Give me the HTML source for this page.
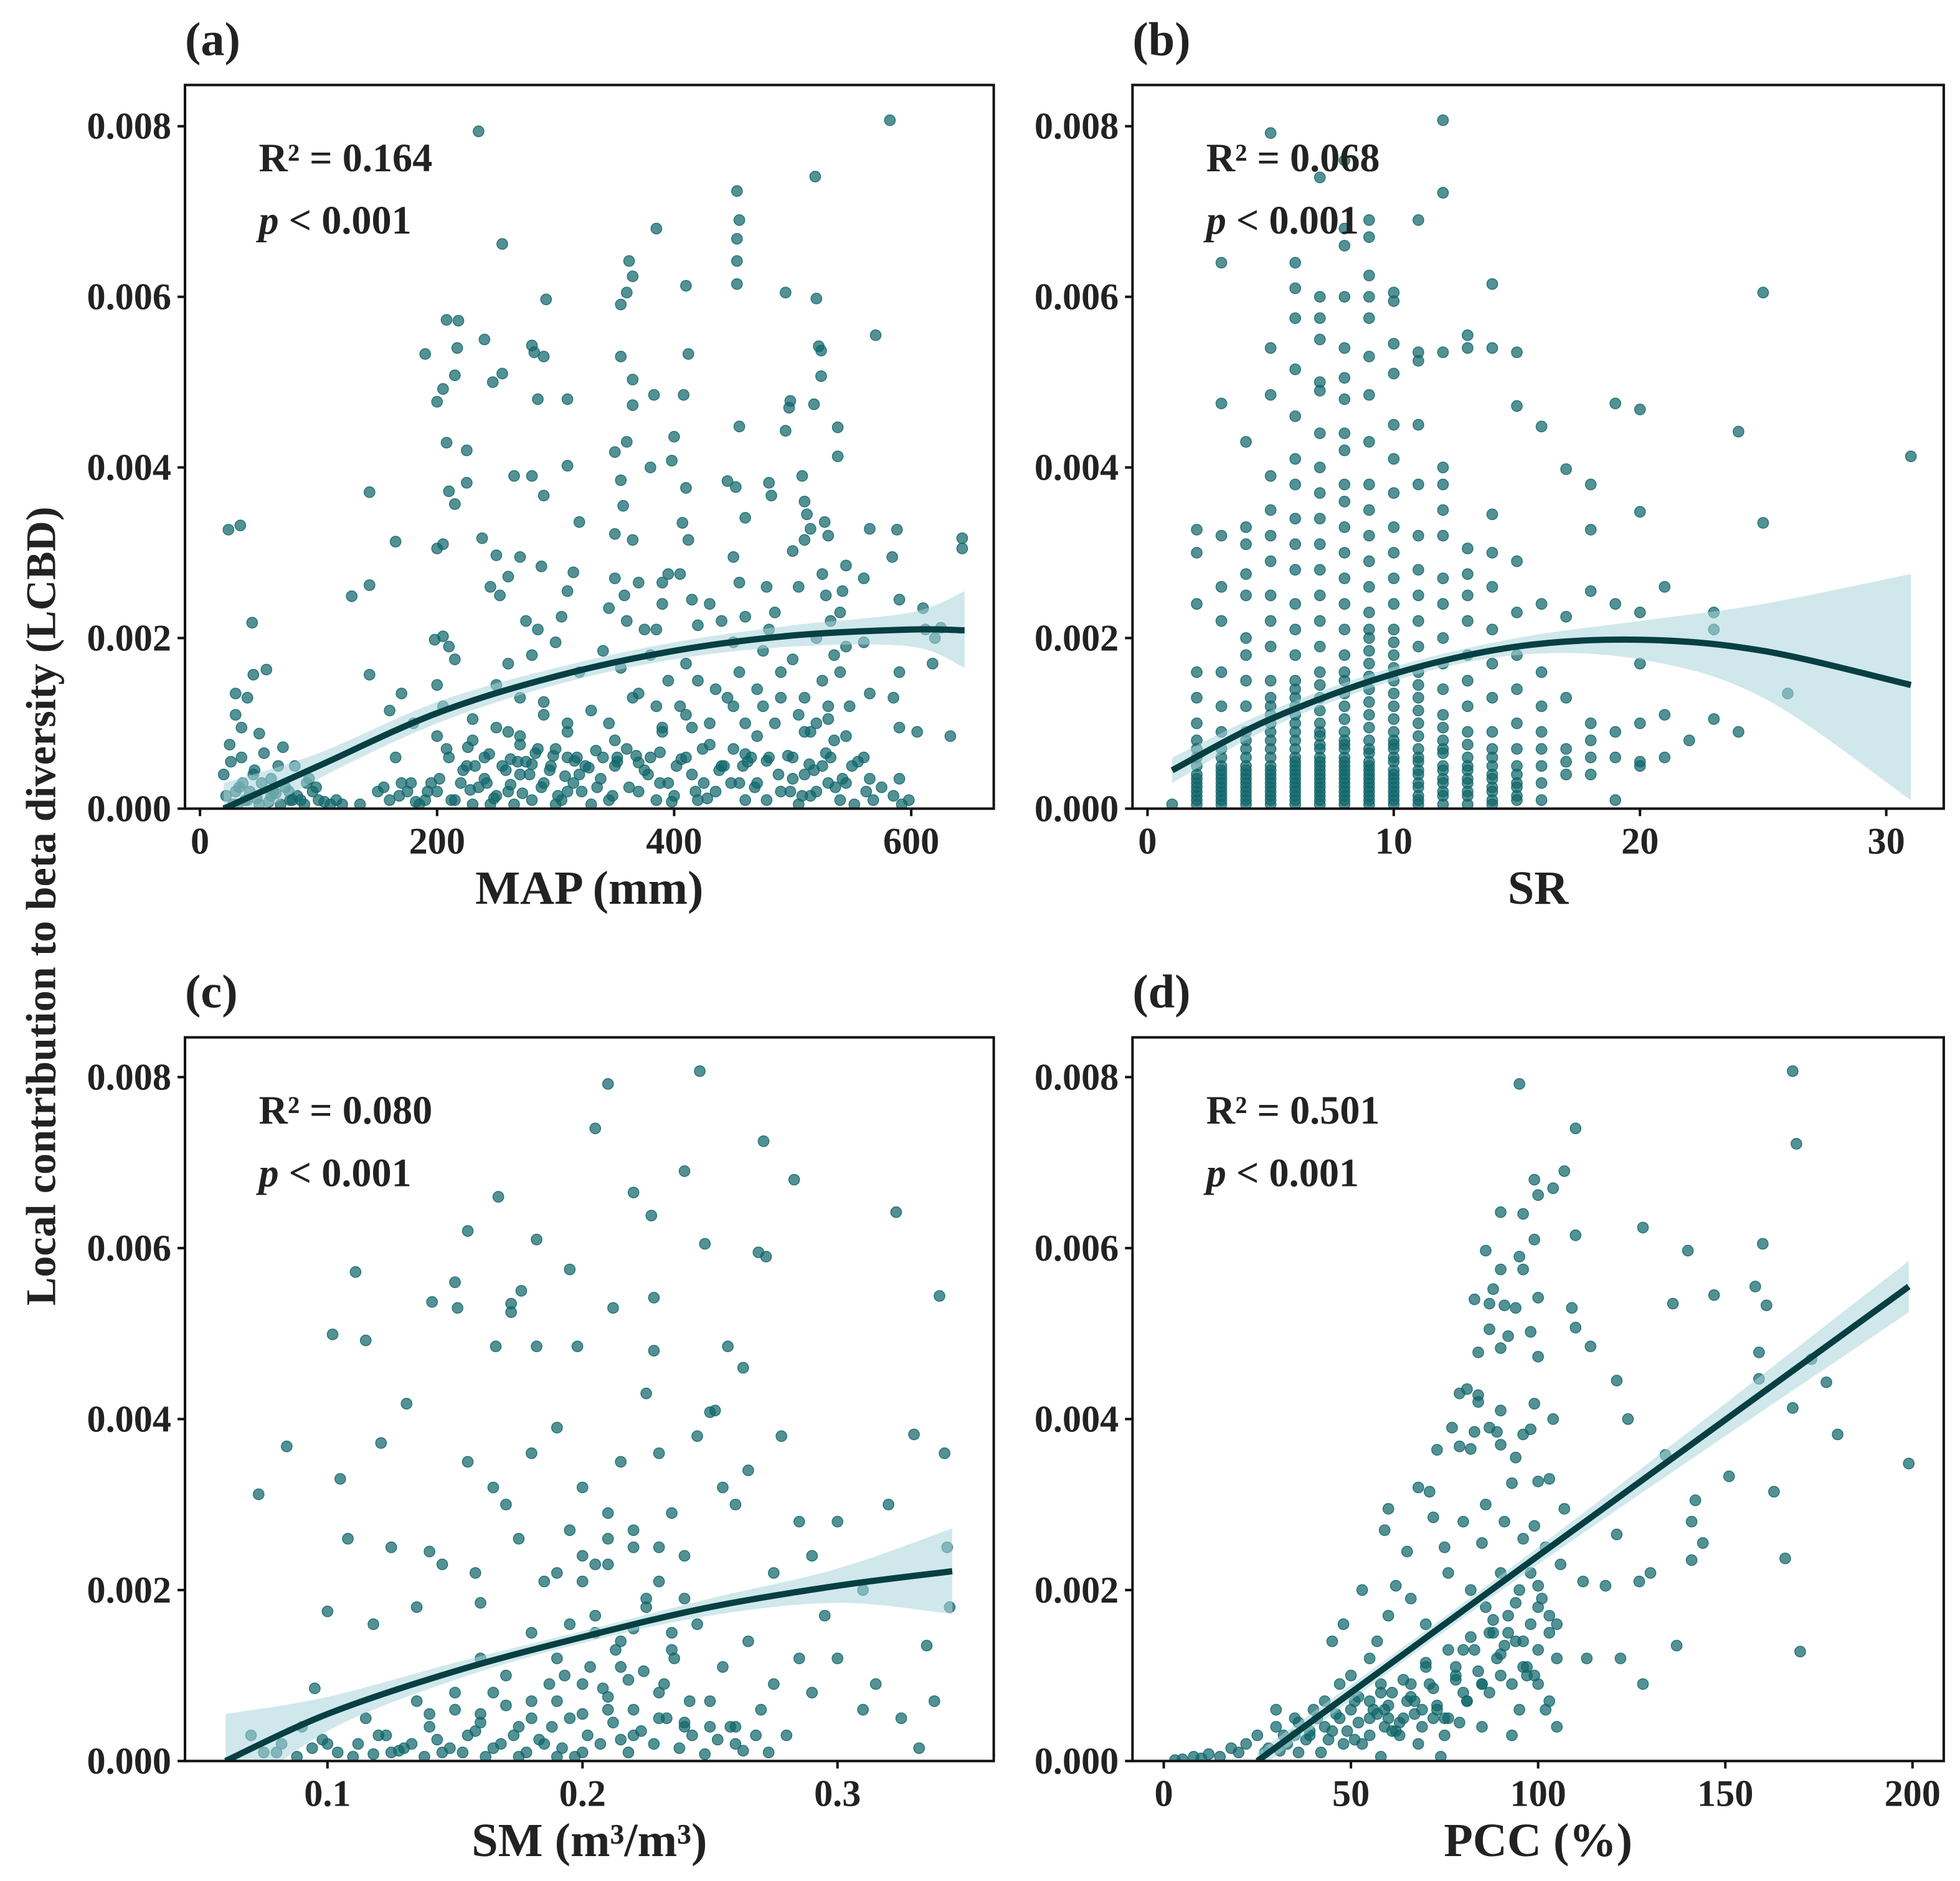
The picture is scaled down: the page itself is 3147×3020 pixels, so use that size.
<!DOCTYPE html>
<html><head><meta charset="utf-8"><title>LCBD scatter panels</title>
<style>
html,body{margin:0;padding:0;background:#fff;}
svg{display:block;}
text{font-family:"Liberation Serif","Times New Roman",serif;font-weight:bold;fill:#222;}
</style></head>
<body>
<svg id="fig" width="3147" height="3020" viewBox="0 0 1568 1505" preserveAspectRatio="none" xmlns="http://www.w3.org/2000/svg">
<text transform="translate(44,725) rotate(-90)" text-anchor="middle" font-size="34">Local contribution to beta diversity (LCBD)</text>
</svg>
<script>
// LCBD values in units of 1e-3
const yTicks = [0, 2, 4, 6, 8];
const yTickLabels = ["0.000", "0.002", "0.004", "0.006", "0.008"];

// Panel a: MAP
const mapX = [24,34,44,56,45,30,40,30,35,50,25,35,45,60,70,80,90,60,40,100,120,30,50,75,85,128,143,143,143,165,160,170,180,165,150,170,190,190,200,205,208,218,215,217,200,205,208,210,215,225,225,198,205,210,215,200,205,200,210,220,200,215,230,235,240,247,255,255,238,250,253,245,260,265,270,280,282,290,285,280,290,288,275,285,280,260,250,270,290,260,240,255,270,290,280,260,245,292,310,310,320,315,310,305,300,320,310,300,320,310,330,355,360,362,365,355,365,365,350,360,355,357,350,365,350,358,370,345,360,375,340,355,365,345,360,350,370,345,385,383,380,390,395,390,385,380,395,385,390,380,395,385,410,408,400,398,412,410,407,412,405,415,420,410,420,405,415,410,425,420,430,440,435,430,440,453,453,453,455,453,455,445,452,460,450,455,460,450,455,445,460,450,458,455,460,470,475,480,482,478,485,480,475,490,485,480,490,494,498,497,494,500,505,508,510,512,510,515,500,510,505,515,500,510,520,505,520,519,522,524,524,518,527,530,525,528,532,520,535,525,530,520,535,525,530,540,538,538,545,542,540,545,540,548,545,550,545,560,565,570,560,565,560,565,582,588,584,590,585,590,590,590,585,605,610,612,618,620,633,643,643,625,160,175,185,195,225,235,250,265,275,295,305,315,325,335,340,375,400,415,435,465,470,500,515,310,285,230,240,270,300,
 22,28,33,38,42,48,52,58,64,68,72,78,82,88,95,105,110,115,135,155,168,178,182,192,202,212,222,228,232,242,248,258,262,268,272,278,283,288,296,302,308,318,322,328,338,348,352,362,368,378,388,398,402,418,428,438,448,462,468,478,488,498,508,518,528,536,542,552,555,562,568,575,592,598,20,26,32,36,46,54,62,66,76,92,98,230,250,270,290,310,330,350,370,390,410,430,450,470,490,510,530,208,226,244,262,280,298,316,334,352,370,388,406,424,442,460,478,496,514,532];
const mapY = [3.27,3.32,2.18,1.63,1.57,1.35,1.3,1.1,0.95,0.88,0.75,0.6,0.4,0.35,0.72,0.5,0.3,0.15,0.1,0.1,0.05,0.2,0.05,0.2,0.1,2.49,3.71,2.62,1.57,3.13,1.15,1.35,1.0,0.6,0.2,0.3,0.1,5.33,4.77,4.92,5.73,5.72,5.08,5.4,3.05,3.1,4.29,3.72,3.57,4.2,3.82,1.98,2.02,1.9,1.75,1.45,1.2,0.85,0.6,0.3,0.2,0.1,0.05,7.94,5.5,5.0,5.1,6.62,3.17,2.97,2.5,2.6,2.72,3.9,2.95,5.43,5.35,5.3,4.8,3.9,3.67,2.84,2.2,2.1,1.8,1.7,1.45,1.3,1.1,0.9,0.6,0.5,0.4,0.3,0.1,0.2,0.05,5.97,4.8,4.02,3.36,2.77,2.55,2.25,1.95,1.6,1.0,0.7,0.4,0.2,0.05,5.91,6.05,6.42,6.24,5.3,5.03,4.73,4.18,4.3,3.85,3.55,3.22,3.15,2.7,2.5,2.65,2.35,2.2,2.1,1.85,1.65,1.3,1.0,0.7,0.5,0.2,0.1,6.8,4.85,4.0,2.65,2.75,2.4,2.1,1.8,1.5,1.2,0.9,0.6,0.3,0.1,6.13,4.85,4.36,4.08,5.33,3.76,3.35,3.15,2.75,2.45,2.15,1.7,1.5,1.2,0.95,0.6,0.3,0.1,2.4,2.2,1.4,1.0,0.5,6.15,6.42,6.68,6.9,7.24,4.48,3.84,3.77,3.41,2.95,2.65,2.25,1.95,1.6,1.3,1.0,0.7,0.5,0.3,0.1,1.4,1.2,3.82,3.67,2.6,2.3,2.1,1.85,1.6,1.0,0.6,0.2,6.05,4.78,4.7,4.43,3.02,2.6,3.9,3.6,3.45,3.15,3.28,1.75,1.3,1.1,0.9,0.6,0.4,0.2,0.05,5.98,7.41,5.42,5.37,5.07,4.74,3.36,3.2,2.75,2.5,2.2,2.0,1.8,1.5,1.2,1.0,0.8,0.5,0.3,0.1,4.47,4.13,2.85,2.55,2.3,1.9,1.6,1.2,0.85,0.5,0.3,2.7,3.28,5.55,1.95,1.35,0.6,0.35,8.07,3.27,2.95,2.45,1.3,1.6,0.95,0.35,0.15,0.9,2.35,2.1,1.7,2.0,0.85,3.17,3.05,2.12,0.1,0.2,0.05,0.3,0.5,0.25,0.15,0.05,0.55,0.45,0.1,0.3,0.5,0.25,0.6,0.45,0.15,0.4,0.2,0.6,0.3,0.35,0.15,0.6,0.7,0.8,0.35,0.75,0.05,
 0.15,0.05,0.25,0.1,0.2,0.12,0.3,0.08,0.18,0.05,0.25,0.1,0.15,0.05,0.2,0.08,0.05,0.1,0.05,0.25,0.15,0.3,0.08,0.2,0.35,0.1,0.45,0.22,0.5,0.3,0.12,0.45,0.28,0.55,0.18,0.4,0.65,0.25,0.5,0.15,0.38,0.6,0.2,0.48,0.35,0.15,0.55,0.25,0.62,0.4,0.3,0.08,0.5,0.2,0.12,0.45,0.3,0.55,0.25,0.1,0.4,0.2,0.15,0.45,0.65,0.25,0.35,0.05,0.55,0.2,0.1,0.25,0.05,0.1,0.4,0.55,0.05,0.3,0.45,0.65,0.2,0.5,0.1,0.35,0.25,1.05,0.95,0.85,1.25,0.9,1.15,0.8,1.35,0.95,1.1,0.75,1.2,0.85,1.3,0.9,1.05,0.7,0.72,0.64,0.58,0.52,0.62,0.56,0.68,0.6,0.54,0.66,0.58,0.7,0.5,0.64,0.56,0.62,0.52,0.6];
const mapFitX = [20,100,200,300,400,500,600,645];
const mapFitY = [0,0.5,1.12,1.55,1.85,2.03,2.1,2.09];
const mapFitLo = [-0.3,0.35,1.0,1.45,1.75,1.9,1.9,1.65];
const mapFitHi = [0.3,0.65,1.25,1.65,1.95,2.15,2.3,2.55];
const mapTicks = [0,200,400,600];

// Panel b: SR (integer columns)
const srCols = [1,2,3,4,5,6,7,8,9,10,11,12,13,14,15,16,17,18,19,20,21,22,23,24,25,26,31];
const srVals = [
 [0.05],
 [3.27,3.0,2.4,1.6,1.3,1.0,0.8,0.7,0.6,0.5,0.4,0.35,0.3,0.25,0.2,0.15,0.1,0.05],
 [6.4,4.75,3.2,2.6,2.2,1.6,1.2,0.9,0.7,0.6,0.5,0.45,0.4,0.35,0.3,0.25,0.2,0.15,0.1,0.05],
 [4.3,3.3,3.1,2.75,2.5,2.0,1.8,1.5,1.2,0.9,0.8,0.7,0.6,0.5,0.45,0.4,0.35,0.3,0.25,0.2,0.15,0.1,0.05],
 [7.92,5.4,4.85,3.9,3.5,3.2,2.9,2.5,2.2,1.9,1.5,1.3,1.2,1.1,1.0,0.9,0.8,0.7,0.6,0.5,0.45,0.4,0.35,0.3,0.25,0.2,0.15,0.1,0.05],
 [6.4,6.1,5.75,5.15,4.6,4.1,3.8,3.4,3.1,2.8,2.4,2.1,1.8,1.5,1.4,1.3,1.2,1.1,1.0,0.9,0.8,0.7,0.6,0.55,0.5,0.45,0.4,0.35,0.3,0.25,0.2,0.15,0.1,0.05],
 [7.4,6.0,5.75,5.5,5.0,4.9,4.4,4.0,3.7,3.4,3.1,2.8,2.5,2.2,1.9,1.6,1.45,1.3,1.15,1.0,0.9,0.85,0.75,0.7,0.6,0.55,0.5,0.45,0.4,0.35,0.3,0.25,0.2,0.15,0.1,0.05],
 [7.6,6.8,6.6,6.0,5.4,5.05,4.8,4.4,4.2,3.8,3.6,3.3,3.0,2.7,2.4,2.1,1.8,1.6,1.5,1.35,1.2,1.05,0.9,0.8,0.75,0.7,0.6,0.55,0.5,0.45,0.4,0.35,0.3,0.25,0.2,0.15,0.1,0.05],
 [6.9,6.7,6.25,6.0,5.75,5.3,4.85,4.3,3.8,3.5,3.2,2.9,2.6,2.3,2.1,2.0,1.85,1.7,1.55,1.4,1.25,1.1,0.95,0.8,0.7,0.65,0.55,0.5,0.45,0.4,0.35,0.3,0.25,0.2,0.15,0.1,0.05],
 [6.05,5.95,5.45,5.1,4.5,4.1,3.7,3.3,3.0,2.7,2.4,2.1,1.95,1.8,1.65,1.5,1.35,1.2,1.05,0.9,0.8,0.75,0.7,0.6,0.55,0.45,0.4,0.35,0.3,0.25,0.2,0.15,0.1,0.05],
 [6.9,5.35,5.25,4.5,3.8,3.2,2.8,2.5,2.2,1.9,1.6,1.45,1.3,1.15,1.0,0.85,0.7,0.6,0.55,0.45,0.4,0.3,0.25,0.15,0.1,0.05],
 [8.07,7.22,5.35,4.0,3.8,3.5,3.2,2.7,2.4,2.0,1.7,1.4,1.1,0.95,0.8,0.7,0.65,0.5,0.45,0.35,0.3,0.2,0.15,0.05],
 [5.55,5.4,3.05,2.75,2.5,2.2,1.8,1.5,1.2,0.9,0.75,0.6,0.5,0.45,0.35,0.3,0.2,0.15,0.05],
 [6.15,5.4,3.45,3.0,2.6,2.1,1.7,1.3,0.9,0.7,0.6,0.5,0.4,0.35,0.25,0.2,0.1,0.05],
 [5.35,4.72,2.9,2.3,1.8,1.4,1.0,0.7,0.5,0.4,0.3,0.25,0.15,0.1],
 [4.48,2.4,1.6,1.2,0.9,0.7,0.5,0.3,0.1],
 [3.98,2.25,1.3,0.7,0.55,0.4],
 [3.8,3.27,2.55,1.0,0.8,0.6,0.4],
 [4.75,2.4,0.9,0.6,0.1],
 [4.68,3.48,2.3,1.7,1.0,0.55,0.5],
 [2.6,1.1,0.6],
 [0.8],
 [2.3,2.1,1.05],
 [4.42,0.9],
 [6.05,3.35],
 [1.35],
 [4.13]
];
const srFitX = [1,5,10,15,20,25,31];
const srFitY = [0.45,1.05,1.58,1.9,1.98,1.85,1.45];
const srFitLo = [0.3,0.95,1.5,1.8,1.75,1.3,0.1];
const srFitHi = [0.6,1.15,1.66,2.0,2.2,2.4,2.75];
const srTicks = [0,10,20,30];

// Panel c: SM
const smX = [0.073,0.084,0.095,0.1,0.102,0.108,0.111,0.115,0.105,0.118,0.121,0.125,0.131,0.135,0.14,0.141,0.145,0.15,0.151,0.155,0.155,0.158,0.16,0.165,0.167,0.166,0.17,0.172,0.176,0.172,0.175,0.18,0.182,0.182,0.185,0.19,0.195,0.195,0.198,0.2,0.205,0.205,0.21,0.212,0.21,0.215,0.22,0.22,0.225,0.227,0.228,0.228,0.23,0.235,0.24,0.24,0.245,0.246,0.248,0.25,0.252,0.255,0.257,0.26,0.263,0.265,0.269,0.272,0.271,0.275,0.278,0.283,0.285,0.29,0.295,0.3,0.31,0.315,0.32,0.323,0.33,0.335,0.34,0.342,0.343,0.344,0.338,0.332,0.325,0.31,0.07,0.08,0.09,0.1,0.11,0.115,0.12,0.13,0.135,0.14,0.145,0.15,0.155,0.16,0.165,0.17,0.175,0.18,0.185,0.19,0.195,0.2,0.2,0.205,0.21,0.215,0.22,0.225,0.23,0.235,0.24,0.245,0.25,0.255,0.26,0.265,0.27,0.275,0.28,0.285,0.29,0.3,0.26,0.215,0.19,0.175,0.125,0.165,0.2,0.21,0.23,0.24,0.18,0.16,0.22,
 0.075,0.082,0.088,0.094,0.098,0.104,0.112,0.118,0.123,0.128,0.133,0.138,0.143,0.148,0.153,0.158,0.162,0.168,0.173,0.178,0.183,0.188,0.192,0.197,0.202,0.207,0.212,0.218,0.223,0.228,0.233,0.238,0.243,0.248,0.253,0.258,0.263,0.268,0.273,0.14,0.15,0.16,0.17,0.18,0.19,0.2,0.21,0.22,0.23,0.24,0.25,0.187,0.193,0.203,0.208,0.213,0.218,0.224,0.232,0.236,0.242,0.195,0.205,0.215,0.225,0.235,0.21,0.22,0.2,0.19,0.23];
const smY = [3.12,3.68,0.85,1.75,4.99,2.6,5.72,4.92,3.3,1.6,3.72,2.5,4.18,1.8,2.45,5.37,2.3,5.6,5.3,6.2,3.5,2.2,1.85,3.2,6.6,4.85,3.0,5.35,5.5,5.25,2.6,3.6,6.1,4.85,2.1,3.9,5.75,2.7,4.85,3.2,7.4,2.3,7.92,5.3,2.9,3.5,6.65,2.5,4.3,6.38,5.42,4.8,3.6,2.9,6.9,2.4,3.8,8.07,6.05,4.08,4.1,3.2,4.85,3.0,4.6,3.4,5.95,5.9,7.25,2.2,3.8,6.8,2.8,2.4,1.7,2.8,2.0,0.9,3.0,6.42,3.82,1.35,5.44,3.6,2.5,1.8,0.7,0.15,0.5,0.6,0.3,0.1,0.4,0.2,0.05,0.5,0.3,0.15,0.7,0.4,0.1,0.8,0.3,0.55,0.15,1.0,0.4,0.7,0.2,1.2,0.5,0.9,0.1,1.5,0.6,1.1,0.3,1.8,0.8,1.3,0.4,1.6,0.7,1.1,0.2,1.4,0.6,0.9,0.3,1.2,0.8,1.2,0.4,0.25,0.05,0.05,0.1,0.8,2.1,2.3,2.1,1.9,1.5,1.2,1.55,
 0.1,0.2,0.05,0.15,0.25,0.1,0.2,0.08,0.3,0.12,0.2,0.05,0.25,0.15,0.1,0.35,0.05,0.2,0.3,0.1,0.25,0.4,0.15,0.05,0.3,0.2,0.45,0.1,0.35,0.2,0.5,0.15,0.3,0.08,0.25,0.4,0.12,0.3,0.1,0.55,0.6,0.45,0.65,0.5,0.7,0.55,0.75,0.6,0.5,0.45,0.4,0.9,1.0,1.1,0.85,1.3,0.95,1.05,0.9,1.2,0.7,1.6,1.7,1.4,1.9,1.5,2.6,2.7,2.4,2.2,2.5];
const smFitX = [0.06,0.1,0.15,0.2,0.25,0.3,0.345];
const smFitY = [0,0.55,1.05,1.45,1.8,2.05,2.22];
const smFitLo = [-0.5,0.35,0.95,1.38,1.7,1.85,1.72];
const smFitHi = [0.55,0.75,1.15,1.52,1.9,2.25,2.72];
const smTicks = [0.1,0.2,0.3];

// Panel d: PCC
const pccX = [95,110,168,169,107,104,99,100,90,96,128,110,99,160,86,140,95,90,96,158,88,147,83,100,136,87,91,161,94,109,87,110,98,92,114,90,84,100,159,173,159,121,177,81,79,84,84,99,168,90,104,124,77,87,89,96,180,83,98,82,79,73,90,134,94,199,151,163,142,68,71,93,100,103,60,59,72,80,99,107,141,144,141,121,166,112,118,127,130,137,170,128,122,113,53,62,65,75,85,90,95,100,105,88,80,70,60,55,48,45,50,58,65,72,80,90,95,100,105,100,85,75,68,60,55,50,45,40,38,35,32,30,28,25,22,20,18,15,12,10,8,5,3,42,48,52,62,66,70,78,82,86,92,97,93,103,98,102,96,91,86,76,66,57,47,43,36,58,74,
 30,33,36,39,41,44,46,49,51,53,56,59,61,63,64,67,69,71,73,76,78,81,83,85,87,89,92,94,96,98,101,103,105,57,60,63,66,69,72,75,78,81,84,87,90,93,96,99,102,52,55,58,61,64,67,70,73,76,79,82,85,88,91,94,97,100,103,106,27,31,35,39,43,47,51,55,59];
const pccY = [7.92,7.4,8.07,7.22,6.9,6.7,6.8,6.62,6.42,6.4,6.24,6.15,6.1,6.05,5.97,5.97,5.9,5.75,5.75,5.55,5.52,5.45,5.4,5.42,5.35,5.35,5.33,5.33,5.3,5.3,5.05,5.07,5.02,4.97,4.85,4.83,4.78,4.73,4.78,4.7,4.47,4.45,4.43,4.35,4.3,4.28,4.2,4.18,4.13,4.1,4.0,4.0,3.9,3.9,3.85,3.82,3.82,3.85,3.88,3.65,3.68,3.64,3.7,3.58,3.55,3.48,3.33,3.15,3.05,3.2,3.15,3.25,3.27,3.3,2.95,2.7,2.85,2.8,2.75,2.95,2.8,2.55,2.35,2.65,2.37,2.1,2.05,2.1,2.2,1.35,1.28,0.9,1.2,1.2,2.0,2.05,2.45,2.5,2.55,2.2,2.0,1.8,1.6,1.5,1.3,1.6,1.7,1.2,1.6,1.4,1.0,0.9,0.7,0.5,0.8,1.0,0.6,0.9,0.4,1.3,0.4,0.3,0.2,0.5,0.3,0.6,0.35,0.6,0.25,0.5,0.3,0.6,0.15,0.3,0.2,0.1,0.15,0.05,0.08,0.03,0.05,0.02,0.01,0.1,0.2,0.45,0.35,0.9,1.1,1.0,2.0,1.8,1.5,1.1,0.3,0.7,2.2,2.5,2.6,2.8,3.0,2.2,1.9,1.4,0.9,0.7,0.1,0.05,0.05,
 0.4,0.2,0.45,0.3,0.5,0.25,0.55,0.35,0.7,0.2,0.6,0.4,0.8,0.3,0.5,0.7,0.4,0.9,0.6,0.5,1.1,0.7,1.3,0.9,1.5,1.2,1.7,1.4,1.1,1.6,1.9,1.5,1.2,0.55,0.65,0.45,0.75,0.6,0.85,0.5,0.95,0.7,1.05,0.8,1.25,0.9,1.4,1.0,0.6,0.75,0.5,0.8,0.35,0.95,0.55,1.15,0.65,1.3,0.45,1.45,0.9,1.65,1.35,1.85,1.0,2.05,1.7,2.3,0.1,0.12,0.3,0.35,0.4,0.5,0.25,0.7,0.6];
const pccFitX = [25,100,199];
const pccFitY = [0,2.4,5.55];
const pccFitLo = [-0.1,2.3,5.25];
const pccFitHi = [0.1,2.5,5.85];
const pccTicks = [0,50,100,150,200];

const NS = "http://www.w3.org/2000/svg";
const svg = document.getElementById("fig");
function mk(tag, attrs, parent) {
  const e = document.createElementNS(NS, tag);
  for (const k in attrs) e.setAttribute(k, attrs[k]);
  (parent || svg).appendChild(e);
  return e;
}
function smooth(P, start) {
  let d = (start ? "M" : "L") + P[0][0] + "," + P[0][1];
  for (let i = 0; i < P.length - 1; i++) {
    const p0 = P[Math.max(0, i - 1)], p1 = P[i], p2 = P[i + 1], p3 = P[Math.min(P.length - 1, i + 2)];
    const c1 = [p1[0] + (p2[0] - p0[0]) / 6, p1[1] + (p2[1] - p0[1]) / 6];
    const c2 = [p2[0] - (p3[0] - p1[0]) / 6, p2[1] - (p3[1] - p1[1]) / 6];
    d += "C" + c1 + " " + c2 + " " + p2;
  }
  return d;
}

function drawPanel(p) {
  const g = mk("g", {});
  
  
  const [L, T, R, B] = p.box;
  const sx = p.sx, sy = p.sy;
  const clipId = "clip-" + p.id;
  const cp = mk("clipPath", { id: clipId }, g);
  mk("rect", { x: L, y: T, width: R - L, height: B - T }, cp);
  const inner = mk("g", { "clip-path": "url(#" + clipId + ")" }, g);

  const pts = mk("g", {}, inner);
  
  
  for (let i = 0; i < p.xs.length; i++) {
    const c = mk("circle", { cx: sx(p.xs[i]), cy: sy(p.ys[i]), r: 4.3, fill: "#11666b", "fill-opacity": 0.72, stroke: "#11666b", "stroke-opacity": 0.85, "stroke-width": 0.7 }, pts);
    
    
  }
  const hi = p.fx.map((x, i) => [sx(x), sy(p.fhi[i])]);
  const lo = p.fx.map((x, i) => [sx(x), sy(p.flo[i])]).reverse();
  const band = mk("path", { d: smooth(hi, true) + smooth(lo, false) + "Z", fill: "#a9d6da", "fill-opacity": 0.55, stroke: "none" }, inner);
  
  
  const P = p.fx.map((x, i) => [sx(x), sy(p.fy[i])]);
  const line = mk("path", { d: smooth(P, true), fill: "none", stroke: "#073f42", "stroke-width": 5, "stroke-linecap": "butt" }, inner);
  
  

  const fr = mk("rect", { x: L, y: T, width: R - L, height: B - T, fill: "none", stroke: "#111", "stroke-width": 2 }, g);
  
  

  yTicks.forEach((v, i) => {
    const y = sy(v);
    mk("line", { x1: L - 6, x2: L, y1: y, y2: y, stroke: "#111", "stroke-width": 2 }, g);
    const t = mk("text", { x: L - 11, y: y + 10, "text-anchor": "end", "font-size": 30 }, g);
    t.textContent = yTickLabels[i];
    
    
  });
  p.xt.forEach(v => {
    const x = sx(v);
    mk("line", { x1: x, x2: x, y1: B, y2: B + 6, stroke: "#111", "stroke-width": 2 }, g);
    const t = mk("text", { x: x, y: B + 36, "text-anchor": "middle", "font-size": 30 }, g);
    t.textContent = p.xtl ? p.xtl(v) : String(v);
    
    
  });
  const xt = mk("text", { x: (L + R) / 2, y: B + 76, "text-anchor": "middle", "font-size": 38 }, g);
  xt.textContent = p.xtitle;
  
  
  const pl = mk("text", { x: L, y: T - 24, "font-size": 38 }, g);
  pl.textContent = "(" + p.id + ")";
  
  
  const r2 = mk("text", { x: L + 59, y: T + 69, "font-size": 32 }, g);
  r2.textContent = "R² = " + p.r2;
  
  
  const pv = mk("text", { x: L + 59, y: T + 119, "font-size": 32 }, g);
  
  
  const pi = mk("tspan", { "font-style": "italic" }, pv); pi.textContent = "p";
  const pr = mk("tspan", {}, pv); pr.textContent = " < 0.001";
}

const yTop = v => 647 - v * 68.25;
const yBot = v => 1409 - v * 68.4;
const srX = [], srY = [];
srCols.forEach((c, i) => srVals[i].forEach(v => { srX.push(c); srY.push(v); }));

drawPanel({ id: "a", box: [148, 68, 795, 647], sx: x => 160 + x * 0.9483, sy: yTop, xs: mapX, ys: mapY, fx: mapFitX, fy: mapFitY, flo: mapFitLo, fhi: mapFitHi, xt: mapTicks, xtitle: "MAP (mm)", r2: "0.164" });
drawPanel({ id: "b", box: [906, 68, 1555, 647], sx: x => 918 + x * 19.7, sy: yTop, xs: srX, ys: srY, fx: srFitX, fy: srFitY, flo: srFitLo, fhi: srFitHi, xt: srTicks, xtitle: "SR", r2: "0.068" });
drawPanel({ id: "c", box: [148, 830, 795, 1409], sx: x => 262 + (x - 0.1) * 2040, sy: yBot, xs: smX, ys: smY, fx: smFitX, fy: smFitY, flo: smFitLo, fhi: smFitHi, xt: smTicks, xtl: v => v.toFixed(1), xtitle: "SM (m³/m³)", r2: "0.080" });
drawPanel({ id: "d", box: [906, 830, 1555, 1409], sx: x => 931 + x * 2.995, sy: yBot, xs: pccX, ys: pccY, fx: pccFitX, fy: pccFitY, flo: pccFitLo, fhi: pccFitHi, xt: pccTicks, xtitle: "PCC (%)", r2: "0.501" });
</script>
</body></html>
